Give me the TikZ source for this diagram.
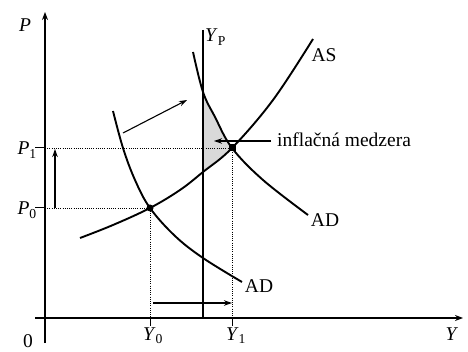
\documentclass[tikz,border=0pt]{standalone}
\usepackage{fontspec}
\setmainfont{Liberation Serif}
\usetikzlibrary{arrows.meta}
\begin{document}
\begin{tikzpicture}[x=1pt,y=-1pt,
  curve/.style={line width=1.9pt},
  axisline/.style={line width=1.3pt,-{Stealth[length=8pt,width=6pt]}},
  guide/.style={line width=0.9pt,dash pattern=on 1pt off 1.2pt},
  shiftarrow/.style={line width=1.1pt,-{Stealth[length=8pt,width=5.5pt]}},
  tick/.style={line width=1pt},
  lbl/.style={font=\fontsize{19.5}{21}\selectfont,inner sep=0pt},
  gap/.style={fill=gray!30},
]
\useasboundingbox (0,0) rectangle (468,352);
% key points
\coordinate (xstart) at (35,318);
\coordinate (xend) at (463,318);
\coordinate (ybot) at (45,343);
\coordinate (ytop) at (45,12);
\coordinate (E0) at (150,208);
\coordinate (E1) at (232,148);
\coordinate (P0) at (45,208);
\coordinate (P1) at (45,148);
\coordinate (P0t) at (35,208);
\coordinate (P1t) at (35,148);
\coordinate (Y0) at (150,318);
\coordinate (Y1) at (232,318);
\coordinate (Y0t) at (150,326);
\coordinate (Y1t) at (232,326);
\coordinate (YPtop) at (203,30);
\coordinate (YPbot) at (203,318);
% inflationary gap shading
\fill[gap] (203,92) -- (209,105) -- (215,117) -- (223,132) -- (232,148)
  -- (217,160) -- (203,172) -- cycle;
% guides
\draw[guide] (P1) -- (E1) -- (Y1);
\draw[guide] (P0) -- (E0) -- (Y0);
\draw[tick] (P1t) -- (P1);
\draw[tick] (P0t) -- (P0);
\draw[tick] (Y0) -- (Y0t);
\draw[tick] (Y1) -- (Y1t);
% axes
\draw[axisline] (ybot) -- (ytop);
\draw[axisline] (xstart) -- (xend);
% potential output
\draw[curve] (YPtop) -- (YPbot);
% curves
\draw[curve] plot[smooth,tension=0.6] coordinates
  {(80,238) (113,225) (150,208) (180,190) (203,172) (232,148) (273,100) (313,39)};
\draw[curve] plot[smooth,tension=0.6] coordinates
  {(113,111) (123,148) (135,180) (150,208) (175,236) (203,258) (242,282)};
\draw[curve] plot[smooth,tension=0.6] coordinates
  {(193,52) (203,92) (215,117) (232,148) (263,180) (308,215)};
% equilibrium markers
\fill (E0) circle (3.5);
\fill (E1) ++(-3.5,-3.5) rectangle ++(7,7);
% shift arrows
\coordinate (a1s) at (123,133); \coordinate (a1e) at (187,100);
\coordinate (a2s) at (55,208); \coordinate (a2e) at (55,149);
\coordinate (a3s) at (153,303); \coordinate (a3e) at (232,303);
\coordinate (a4s) at (271,141); \coordinate (a4e) at (214,141);
\draw[shiftarrow] (a1s) -- (a1e);
\draw[shiftarrow] (a2s) -- (a2e);
\draw[shiftarrow] (a3s) -- (a3e);
\draw[shiftarrow] (a4s) -- (a4e);
% labels
\node[lbl,anchor=base] (lP) at (25,32) {\textit{P}};
\node[lbl,anchor=base east] (lP1) at (37,155) {\textit{P}\textsubscript{1}};
\node[lbl,anchor=base east] (lP0) at (37,215) {\textit{P}\textsubscript{0}};
\node[lbl,anchor=base] (l0) at (28,347) {0};
\node[lbl,anchor=base] (lY0) at (153,340) {\textit{Y}\textsubscript{0}};
\node[lbl,anchor=base] (lY1) at (236,340) {\textit{Y}\textsubscript{1}};
\node[lbl,anchor=base] (lY) at (452,340) {\textit{Y}};
\node[lbl,anchor=base west] (lYP) at (205,42) {\textit{Y}\textsubscript{P}};
\node[lbl,anchor=base] (lAS) at (324,62) {AS};
\node[lbl,anchor=base] (lAD2) at (325,227) {AD};
\node[lbl,anchor=base] (lAD1) at (259,293) {AD};
\node[lbl,anchor=base west] (lgap) at (277,147) {inflačná medzera};
\end{tikzpicture}
\end{document}
